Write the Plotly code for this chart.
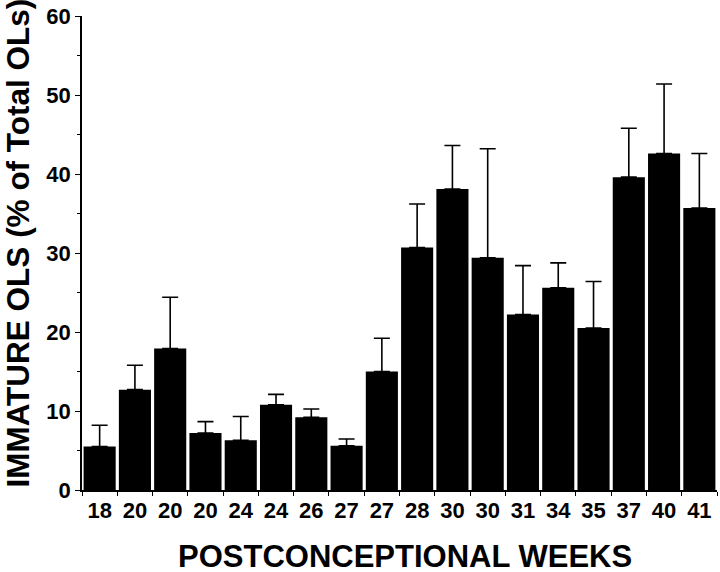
import plotly.graph_objects as go

week_labels = ["18", "20", "20", "20", "24", "24", "26", "27", "27",
               "28", "30", "30", "31", "34", "35", "37", "40", "41"]
immature_pct = [5.5, 12.7, 17.9, 7.2, 6.3, 10.8, 9.2, 5.6, 15.0,
                30.7, 38.1, 29.4, 22.2, 25.6, 20.5, 39.6, 42.6, 35.7]
sem = [2.7, 3.1, 6.5, 1.45, 3.0, 1.3, 1.05, 0.85, 4.2,
       5.5, 5.5, 13.8, 6.2, 3.15, 5.9, 6.2, 8.8, 6.9]
y_max = 60
y_step = 10

positions = list(range(len(week_labels)))
font_family = "Liberation Sans, Arial, sans-serif"

fig = go.Figure()
fig.add_trace(go.Bar(
    x=positions,
    y=immature_pct,
    marker=dict(color="black", line=dict(width=0)),
    error_y=dict(type="data", array=sem, symmetric=False, arrayminus=[0] * len(sem),
                 color="black", thickness=1.6, width=8),
    showlegend=False,
))

fig.update_layout(
    width=720, height=572,
    margin=dict(l=82, r=3, t=16, b=82),
    paper_bgcolor="white", plot_bgcolor="white",
    bargap=0.09,
    font=dict(family=font_family, color="black"),
    xaxis=dict(
        range=[-0.5, len(week_labels) - 0.5],
        tickvals=positions, ticktext=week_labels,
        ticks="", showgrid=False, zeroline=False,
        showline=True, linecolor="black", linewidth=1.5,
        tickfont=dict(size=22, family=font_family, color="black", weight="bold"),
        minor=dict(tickvals=[p - 0.5 for p in positions] + [len(positions) - 0.5],
                   ticks="outside", ticklen=4, tickcolor="black", tickwidth=1, showgrid=False),
    ),
    yaxis=dict(
        range=[0, y_max], tickmode="linear", tick0=0, dtick=y_step,
        ticks="outside", ticklen=5, tickcolor="black", tickwidth=1.2,
        showgrid=False, zeroline=False,
        showline=True, linecolor="black", linewidth=1.5,
        tickfont=dict(size=22, family=font_family, color="black", weight="bold"),
        minor=dict(dtick=5, tick0=0, ticks="outside", ticklen=3, tickcolor="black",
                   tickwidth=1, showgrid=False),
    ),
    annotations=[
        dict(text="POSTCONCEPTIONAL WEEKS", xref="paper", yref="paper",
             x=0.5, y=0, xanchor="center", yanchor="middle", yshift=-66, xshift=5,
             showarrow=False,
             font=dict(size=31, family=font_family, color="black", weight="bold")),
        dict(text="IMMATURE OLS (% of Total OLs)", xref="paper", yref="paper",
             x=0, y=0.52, xanchor="center", yanchor="middle", xshift=-64,
             textangle=-90, showarrow=False,
             font=dict(size=31.5, family=font_family, color="black", weight="bold")),
    ],
)

fig.write_html("out.html", config={"displayModeBar": False},
               post_script="document.body.style.margin='0';")
